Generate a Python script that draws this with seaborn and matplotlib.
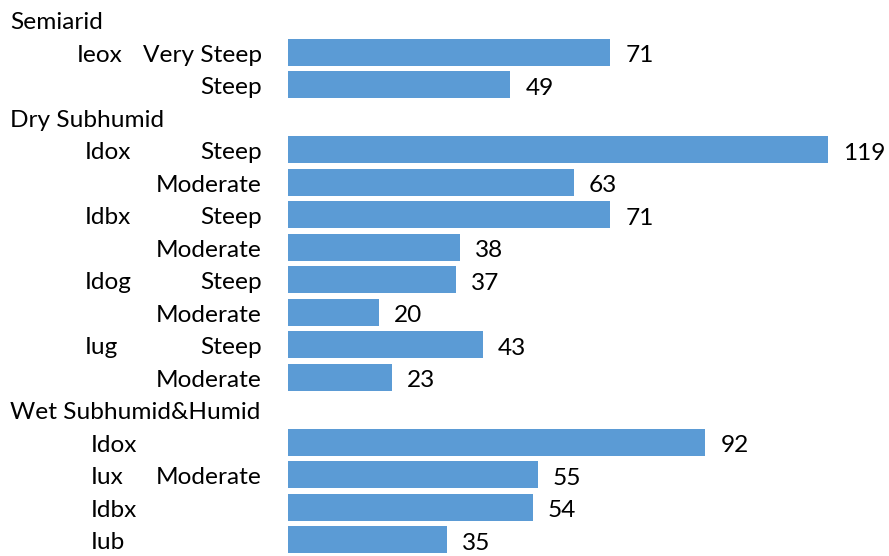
import matplotlib
matplotlib.use("Agg")
import matplotlib.pyplot as plt
import matplotlib.transforms as mtransforms
import pandas as pd
import seaborn as sns

# Erosion estimates by climate zone, soil unit and slope class
climates = ["Semiarid", "Dry Subhumid", "Wet Subhumid&Humid"]
groups = ["Semiarid"] * 2 + ["Dry Subhumid"] * 8 + ["Wet Subhumid&Humid"] * 4
units = ["Ieox", "", "Idox", "", "Idbx", "", "Idog", "", "Iug", "",
         "Idox", "Iux", "Idbx", "Iub"]
slopes = ["Very Steep", "Steep", "Steep", "Moderate", "Steep", "Moderate",
          "Steep", "Moderate", "Steep", "Moderate", "", "Moderate", "", ""]
values = [71, 49, 119, 63, 71, 38, 37, 20, 43, 23, 92, 55, 54, 35]

# Build the row layout: one header row per climate, then its bars
row_ids, row_kind = [], []
bar_rows = []
for c in climates:
    row_ids.append(f"h_{c}")
    row_kind.append(("header", c))
    for i, g in enumerate(groups):
        if g == c:
            rid = f"b_{i}"
            row_ids.append(rid)
            row_kind.append(("bar", i))
            bar_rows.append(rid)

df = pd.DataFrame({"row": bar_rows, "value": values})

sns.set_theme(style="white")
plt.rcParams["font.family"] = ["Lato", "DejaVu Sans"]
FS = 17.6

W, H = 889, 556
fig = plt.figure(figsize=(W / 100, H / 100), dpi=100)
ax_left = 288
ax = fig.add_axes([ax_left / W, 0, (W - ax_left) / W, 1])

sns.barplot(data=df, x="value", y="row", order=row_ids, orient="h",
            color="#5B9BD5", saturation=1, width=0.83, linewidth=0, ax=ax)

ax.set_xlim(0, (W - ax_left) / 4.538)
ax.set_ylim(16.50, -0.606)
ax.set_xlabel("")
ax.set_ylabel("")
ax.set_xticks([])
ax.set_yticks([])
for s in ax.spines.values():
    s.set_visible(False)

# Text sits on a baseline a little below each row's centre
def shifted(base, dx_px, dy_px):
    return base + mtransforms.ScaledTranslation(dx_px / 100, -dy_px / 100,
                                                fig.dpi_scale_trans)

# Value labels at bar ends
pos_of = {rid: p for p, rid in enumerate(row_ids)}
for rid, v in zip(bar_rows, values):
    ax.text(v, pos_of[rid], str(v), transform=shifted(ax.transData, 15, 10),
            ha="left", va="baseline", fontsize=FS, color="black")

# Hierarchical category labels
tr = mtransforms.blended_transform_factory(fig.transFigure, ax.transData)
ttr = shifted(tr, 0, 9.5)
unit_x = {"Semiarid": 77, "Dry Subhumid": 85, "Wet Subhumid&Humid": 91}
for pos, (kind, ref) in enumerate(row_kind):
    if kind == "header":
        ax.text(10 / W, pos, ref, transform=ttr, ha="left", va="baseline",
                fontsize=FS, color="black")
    else:
        i = ref
        if units[i]:
            ax.text(unit_x[groups[i]] / W, pos, units[i], transform=ttr,
                    ha="left", va="baseline", fontsize=FS, color="black")
        if slopes[i]:
            ax.text(262 / W, pos, slopes[i], transform=ttr, ha="right",
                    va="baseline", fontsize=FS, color="black")

fig.savefig("out.png", dpi=100)
